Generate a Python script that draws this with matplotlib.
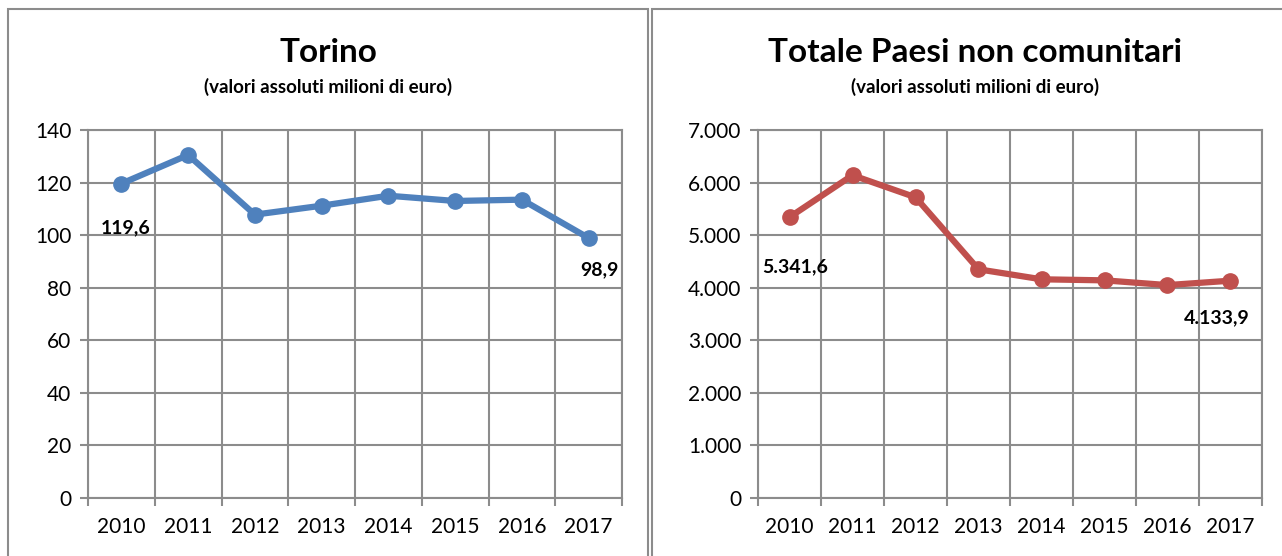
import numpy as np
import matplotlib.pyplot as plt
from matplotlib.patches import Rectangle
from matplotlib.ticker import FuncFormatter

# dati
anni = ['2010', '2011', '2012', '2013', '2014', '2015', '2016', '2017']
torino = [119.6, 130.5, 107.8, 111.2, 115.0, 113.0, 113.5, 98.9]
extra_ue = [5341.6, 6140, 5720, 4350, 4160, 4140, 4050, 4133.9]
etichette_torino = {0: '119,6', 7: '98,9'}
etichette_extra = {0: '5.341,6', 7: '4.133,9'}

plt.rcParams['font.family'] = ['Lato', 'DejaVu Sans']

W, H = 1282, 556
fig = plt.figure(figsize=(W / 100, H / 100), dpi=100)

grey = '#8c8c8c'

# cornici dei pannelli
fig.patches.append(Rectangle((8 / W, -0.1), 640 / W, 1.1 - 9 / H, transform=fig.transFigure,
                             fill=False, edgecolor=grey, lw=1.5))
fig.patches.append(Rectangle((652 / W, -0.1), 640 / W, 1.1 - 9 / H, transform=fig.transFigure,
                             fill=False, edgecolor=grey, lw=1.5))


def it_fmt(v, pos):
    return f'{int(round(v)):,}'.replace(',', '.')


def draw(rect, values, color, ymax, ystep, title, labels, offs, cx):
    ax = fig.add_axes(rect)
    x = np.arange(len(anni))
    ax.plot(x, values, color=color, lw=4.5, marker='o', ms=11, solid_capstyle='round')
    ax.set_xlim(-0.5, len(anni) - 0.5)
    ax.set_ylim(0, ymax)
    ax.set_yticks(np.arange(0, ymax + 1, ystep))
    ax.yaxis.set_major_formatter(FuncFormatter(it_fmt))
    ax.set_xticks(x)
    ax.set_xticklabels(anni)
    ax.set_xticks(np.arange(-0.5, len(anni)), minor=True)
    ax.tick_params(axis='x', which='major', length=0, pad=14, labelsize=15)
    ax.tick_params(axis='x', which='minor', length=6, width=1.5, color=grey)
    ax.tick_params(axis='y', length=6, width=1.5, color=grey, labelsize=15, pad=6)
    ax.grid(True, axis='y', color=grey, lw=1.5)
    ax.grid(True, axis='x', which='minor', color=grey, lw=1.5)
    for s in ax.spines.values():
        s.set_color(grey)
        s.set_linewidth(1.5)
    ax.set_axisbelow(True)
    for i, t in labels.items():
        ax.annotate(t, (x[i], values[i]), xytext=offs[i], textcoords='offset points',
                    ha='center', va='center', fontsize=14, fontweight='bold')
    fig.text(cx, 1 - 52 / H, title, ha='center', va='center', fontsize=24, fontweight='bold')
    fig.text(cx, 1 - 87 / H, '(valori assoluti milioni di euro)', ha='center', va='center',
             fontsize=13.5, fontweight='bold')
    return ax


draw([88 / W, 1 - 498 / H, 534 / W, 368 / H], torino, '#4F81BD', 140, 20, 'Torino',
     etichette_torino, {0: (3, -32), 7: (8, -23)}, 328 / W)
draw([758 / W, 1 - 498 / H, 504 / W, 368 / H], extra_ue, '#C0504D', 7000, 1000,
     'Totale Paesi non comunitari', etichette_extra, {0: (4, -36), 7: (-10, -27)}, 975 / W)

plt.savefig('out.png', dpi=100)
